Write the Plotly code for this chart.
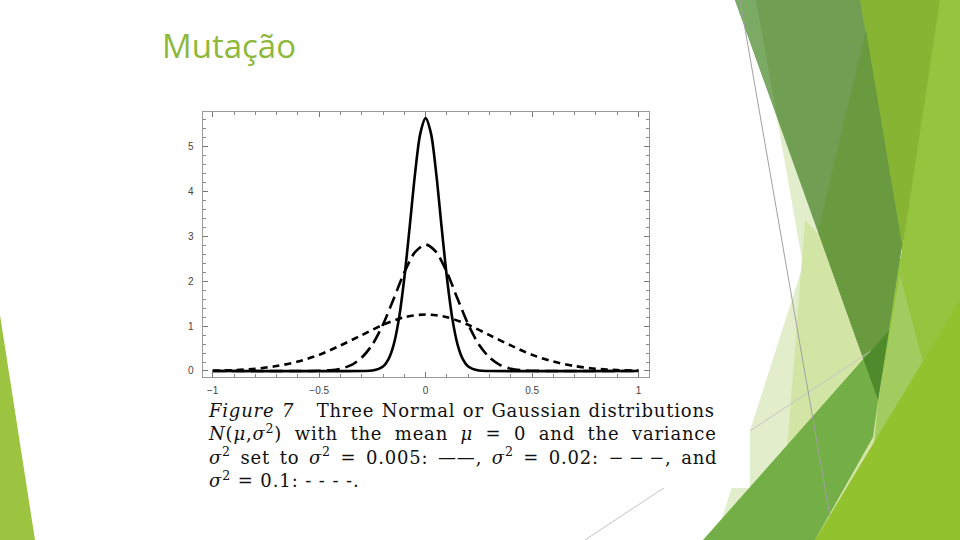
import plotly.graph_objects as go

# ---- data ----
x_s1 = [-1.0, -0.3, -0.25, -0.2, -0.175, -0.15, -0.125, -0.1, -0.075, -0.05, -0.025, 0.0,
        0.025, 0.05, 0.075, 0.1, 0.125, 0.15, 0.175, 0.2, 0.25, 0.3, 1.0]
y_s1 = [0.0, 0.0, 0.01, 0.10, 0.26, 0.59, 1.18, 2.08, 3.21, 4.39, 5.30, 5.64,
        5.30, 4.39, 3.21, 2.08, 1.18, 0.59, 0.26, 0.10, 0.01, 0.0, 0.0]

x_s2 = [-1.0, -0.6, -0.5, -0.45, -0.4, -0.35, -0.3, -0.25, -0.2, -0.15, -0.1, -0.05, 0.0,
        0.05, 0.1, 0.15, 0.2, 0.25, 0.3, 0.35, 0.4, 0.45, 0.5, 0.6, 1.0]
y_s2 = [0.0, 0.0, 0.005, 0.018, 0.05, 0.13, 0.30, 0.59, 1.04, 1.61, 2.20, 2.65, 2.82,
        2.65, 2.20, 1.61, 1.04, 0.59, 0.30, 0.13, 0.05, 0.018, 0.005, 0.0, 0.0]

x_s3 = [-1.0, -0.9, -0.8, -0.7, -0.6, -0.5, -0.4, -0.3, -0.2, -0.1, 0.0,
        0.1, 0.2, 0.3, 0.4, 0.5, 0.6, 0.7, 0.8, 0.9, 1.0]
y_s3 = [0.01, 0.02, 0.05, 0.11, 0.21, 0.36, 0.57, 0.80, 1.03, 1.20, 1.26,
        1.20, 1.03, 0.80, 0.57, 0.36, 0.21, 0.11, 0.05, 0.02, 0.01]

x_tickvals = [-1, -0.5, 0, 0.5, 1]
x_ticktext = ["\u22121", "\u22120.5", "0", "0.5", "1"]
y_tickvals = [0, 1, 2, 3, 4, 5]
y_ticktext = ["0", "1", "2", "3", "4", "5"]

title_text = "Mutação"
caption_lines = [
    "<i>Figure 7</i>\u00a0\u00a0\u00a0Three Normal or Gaussian distributions",
    "<i>N</i>(<i>μ</i>,<i>σ</i><sup>2</sup>) with the mean <i>μ</i> = 0 and the variance",
    "<i>σ</i><sup>2</sup> set to <i>σ</i><sup>2</sup> = 0.005: ——, <i>σ</i><sup>2</sup> = 0.02: −\u2009−\u2009−, and",
    "<i>σ</i><sup>2</sup> = 0.1: - - - -.",
]

W, H = 960, 540


def px(x):
    return x / W


def py(y):
    return 1 - y / H


def poly(pts, color, opacity=1.0):
    d = "M " + " L ".join(f"{px(a):.5f},{py(b):.5f}" for a, b in pts) + " Z"
    return dict(type="path", path=d, xref="paper", yref="paper",
                fillcolor=color, line=dict(width=0), opacity=opacity, layer="below")


def seg(p, q, color="#c4c4c4", w=1):
    return dict(type="line", xref="paper", yref="paper", x0=px(p[0]), y0=py(p[1]),
                x1=px(q[0]), y1=py(q[1]), line=dict(color=color, width=w), layer="below")


fig = go.Figure()
line_style = dict(color="black", width=2.6, shape="spline", smoothing=0.8)
fig.add_trace(go.Scatter(x=x_s3, y=y_s3, mode="lines",
                         line=dict(**line_style, dash="7px,5px")))
fig.add_trace(go.Scatter(x=x_s2, y=y_s2, mode="lines",
                         line=dict(**line_style, dash="13px,6px")))
fig.add_trace(go.Scatter(x=x_s1, y=y_s1, mode="lines", line=dict(**line_style)))

shapes = [
    # bottom-left accent
    poly([(0, 315), (35, 540), (0, 540)], "#9cc440"),
    # pale layers
    poly([(756, 0), (803, 265), (715, 540), (900, 540), (900, 0)], "#e2edcb"),
    poly([(805, 220), (780, 540), (900, 540), (880, 300)], "#d3e5a4"),
    # light green right block
    poly([(938, 0), (960, 0), (960, 540), (870, 540), (885, 330), (902, 250)], "#97c43e"),
    # olive triangle
    poly([(858, 0), (940, 0), (902, 252)], "#87b533"),
    # muted green big triangle
    poly([(735, 0), (860, 0), (902, 245), (878, 400)], "#709e52"),
    poly([(735, 0), (756, 0), (777, 116)], "#7aaa63"),
    poly([(818, 231), (866, 30), (902, 245), (878, 400)], "#6a9a40"),
    # lighter strip right of the muted apex
    poly([(900, 275), (925, 370), (874, 445), (878, 400)], "#a2cc5f"),
    # yellow-green lower right
    poly([(815, 540), (960, 300), (960, 540)], "#93c22f"),
    # thin connector lines
    seg((585, 540), (880, 345)),
    # white picture background
    dict(type="rect", xref="paper", yref="paper", x0=px(180), x1=px(750),
         y0=py(488), y1=py(100), fillcolor="white", line=dict(width=0), layer="below"),
    # medium green triangle from bottom
    poly([(703, 540), (815, 540), (873, 437), (878, 400), (889, 330)], "#74ae46"),
    poly([(863.5, 359.4), (889, 330), (878, 400)], "#4f8a2c"),
    seg((740, 0), (830, 517), "#a0a0a0"),
]

# justified caption: per-line letter / word spacing
cap_letter = [0.8, 0.8, 0.8, 0.9]
cap_word = [1.0, 6.0, 3.1, 0.0]
cap_parts = []
for t, ls, ws in zip(caption_lines, cap_letter, cap_word):
    cap_parts.append(f'<span style="letter-spacing:{ls}px;word-spacing:{ws}px">{t}</span>')
caption_text = "<br>".join(cap_parts)

annotations = [
    dict(text=title_text, xref="paper", yref="paper", x=px(160), y=py(46),
         xanchor="left", yanchor="middle", showarrow=False,
         font=dict(family="Open Sans", size=33, color="#8db83b")),
    dict(text=caption_text, xref="paper", yref="paper", x=px(206), y=py(493),
         xanchor="left", yanchor="bottom", align="left", showarrow=False,
         font=dict(family="DejaVu Serif", size=18, color="#111")),
]

axis_common = dict(showline=True, linecolor="#9a9a9a", linewidth=1, mirror="allticks",
                   ticks="inside", ticklen=5, tickcolor="#777", tickwidth=1,
                   showgrid=False, zeroline=False,
                   tickfont=dict(family="Liberation Sans", size=10, color="#444"))

fig.update_layout(
    width=W, height=H, margin=dict(l=0, r=0, t=0, b=0),
    paper_bgcolor="white", plot_bgcolor="white", showlegend=False,
    shapes=shapes, annotations=annotations,
    xaxis=dict(domain=[px(202.5), px(649)], range=[-1.048, 1.049],
               tickvals=x_tickvals, ticktext=x_ticktext, ticklabelstandoff=4,
               minor=dict(dtick=0.1, tick0=0, ticks="inside", ticklen=3, tickcolor="#888"),
               **axis_common),
    yaxis=dict(domain=[py(377), py(112.3)], range=[-0.134, 5.77],
               tickvals=y_tickvals, ticktext=y_ticktext, ticklabelstandoff=6,
               minor=dict(dtick=0.2, tick0=0, ticks="inside", ticklen=3, tickcolor="#888"),
               **axis_common),
)

fig.write_html("out.html")
